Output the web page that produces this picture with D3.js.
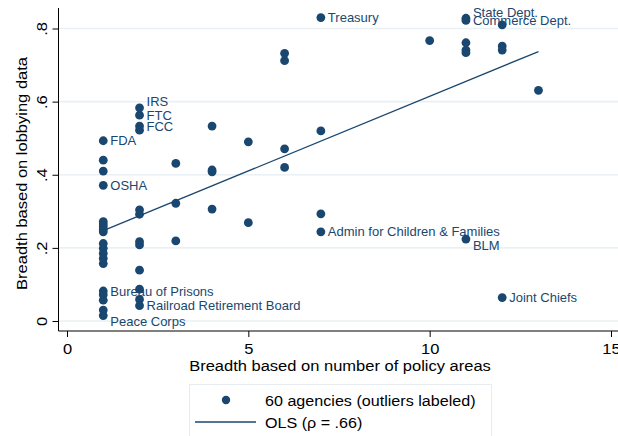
<!DOCTYPE html>
<html>
<head>
<meta charset="utf-8">
<script src="https://cdn.jsdelivr.net/npm/d3@7"></script>
<style>
  html, body { margin: 0; padding: 0; background: #fff; }
  svg { display: block; font-family: "Liberation Sans", Arial, Helvetica, sans-serif; }
</style>
</head>
<body>
<svg id="chart" width="618" height="436"></svg>
<script>
// Agencies: breadth by number of policy areas (x) vs breadth from lobbying data (y)
const policyAreas = [
  1,1,1,1,1,1,1,1,1,1,1,1,1,1,1,1,1,1,1,
  2,2,2,2,2,2,2,2,2,2,2,2,
  3,3,3,
  4,4,4,4,
  5,5,
  6,6,6,6,
  7,7,7,7,
  10,
  11,11,11,11,11,11,
  12,12,12,12,
  13
];
const lobbyingBreadth = [
  0.493,0.440,0.410,0.371,0.272,0.265,0.258,0.250,0.244,0.212,0.199,0.185,0.171,0.157,0.082,0.072,0.057,0.030,0.015,
  0.583,0.563,0.533,0.522,0.304,0.292,0.217,0.208,0.139,0.087,0.059,0.042,
  0.431,0.322,0.219,
  0.533,0.413,0.408,0.306,
  0.490,0.269,
  0.732,0.712,0.471,0.420,
  0.830,0.520,0.293,0.244,
  0.767,
  0.828,0.822,0.761,0.741,0.734,0.224,
  0.810,0.752,0.741,0.064,
  0.631
];

// Fitted OLS line endpoints
const olsX = [1, 13];
const olsY = [0.247, 0.737];

// Labeled outliers (clock position of the label relative to its marker)
const labelNames = ["Treasury","State Dept.","Commerce Dept.","IRS","FTC","FCC","FDA","OSHA",
  "Admin for Children & Families","BLM","Bureau of Prisons","Railroad Retirement Board","Peace Corps","Joint Chiefs"];
const labelX = [7,11,11,2,2,2,1,1,7,11,1,2,1,12];
const labelY = [0.830,0.828,0.822,0.583,0.563,0.533,0.493,0.371,0.244,0.224,0.080,0.042,0.015,0.064];
const labelClock = [3,2,3,2,3,3,3,3,3,4,3,3,4,3];

const xTicks = [0, 5, 10, 15];
const yTicks = [0, 0.2, 0.4, 0.6, 0.8];
const yTickLabels = ["0", ".2", ".4", ".6", ".8"];

const navy = "#1a476f";
const stretch = 1.065;   // slightly wide lettering for titles and legend
const svg = d3.select("#chart");

const plot = { left: 58.5, right: 618, top: 8, bottom: 331 };
const x = d3.scaleLinear().domain([0, 15]).range([67, 611]);
const y = d3.scaleLinear().domain([0, 0.8]).range([321, 28.5]);

// Text placed at (px, py), optionally rotated, stretched along its baseline
function addText(parent, px, py, str, size, opts = {}) {
  const rot = opts.rotate ? ` rotate(${opts.rotate})` : "";
  return parent.append("text")
    .attr("transform", `translate(${px},${py})${rot} scale(${opts.sx || stretch},1)`)
    .attr("text-anchor", opts.anchor || "start")
    .attr("dominant-baseline", "central")
    .attr("font-size", size)
    .attr("fill", opts.fill || "#000")
    .text(str);
}

// Gridlines
svg.append("g").selectAll("line").data(yTicks).join("line")
  .attr("x1", plot.left).attr("x2", plot.right)
  .attr("y1", d => y(d)).attr("y2", d => y(d))
  .attr("stroke", "#eaf0f4").attr("stroke-width", 1.6);

// X axis
const xAxis = svg.append("g")
  .attr("transform", `translate(0,${plot.bottom})`)
  .call(d3.axisBottom(x).tickValues(xTicks).tickSize(6).tickFormat(d3.format("d")));
xAxis.select(".domain").remove();
xAxis.selectAll(".tick line").attr("stroke", "#000");
xAxis.selectAll(".tick text")
  .attr("font-size", 15).attr("fill", "#000")
  .attr("font-family", "Liberation Sans, Arial, sans-serif")
  .attr("y", null).attr("dy", null)
  .attr("dominant-baseline", "central")
  .attr("transform", `translate(0,18) scale(1.1,1)`);
svg.append("line").attr("x1", plot.left).attr("x2", plot.right)
  .attr("y1", plot.bottom).attr("y2", plot.bottom).attr("stroke", "#000");

// Y axis
const yAxis = svg.append("g")
  .attr("transform", `translate(${plot.left},0)`)
  .call(d3.axisLeft(y).tickValues(yTicks).tickSize(6).tickFormat((d, i) => yTickLabels[i]));
yAxis.select(".domain").remove();
yAxis.selectAll(".tick line").attr("stroke", "#000");
yAxis.selectAll(".tick text")
  .attr("font-size", 15).attr("fill", "#000")
  .attr("font-family", "Liberation Sans, Arial, sans-serif")
  .attr("x", null).attr("dy", null)
  .attr("text-anchor", "middle")
  .attr("transform", "translate(-17,0) rotate(-90) scale(1.1,1)")
  .attr("dominant-baseline", "central");
svg.append("line").attr("x1", plot.left).attr("x2", plot.left)
  .attr("y1", plot.top).attr("y2", plot.bottom).attr("stroke", "#000");

// Axis titles
addText(svg, 340, 366, "Breadth based on number of policy areas", 15.5, { anchor: "middle" });
addText(svg, 22, 173.5, "Breadth based on lobbying data", 15.5, { anchor: "middle", rotate: -90 });

// OLS line
svg.append("line")
  .attr("x1", x(olsX[0])).attr("y1", y(olsY[0]))
  .attr("x2", x(olsX[1])).attr("y2", y(olsY[1]))
  .attr("stroke", navy).attr("stroke-width", 1.3);

// Markers
svg.append("g").selectAll("circle").data(policyAreas).join("circle")
  .attr("cx", d => x(d))
  .attr("cy", (d, i) => y(lobbyingBreadth[i]))
  .attr("r", 4.4)
  .attr("fill", navy);

// Outlier labels
const clockDy = { 2: -6, 3: 0, 4: 6 };
svg.append("g").selectAll("text").data(labelNames).join("text")
  .attr("x", (d, i) => x(labelX[i]) + 7)
  .attr("y", (d, i) => y(labelY[i]) + clockDy[labelClock[i]])
  .attr("dominant-baseline", "central")
  .attr("font-size", 13)
  .attr("fill", navy)
  .text(d => d);

// Legend
const lg = svg.append("g");
lg.append("rect").attr("x", 189.5).attr("y", 384.5).attr("width", 302).attr("height", 60)
  .attr("fill", "#fff").attr("stroke", "#e6ecf0").attr("stroke-width", 1);
lg.append("circle").attr("cx", 226).attr("cy", 400).attr("r", 4.2).attr("fill", navy);
addText(lg, 265, 400.5, "60 agencies (outliers labeled)", 15, { sx: 1.075 });
lg.append("line").attr("x1", 195).attr("x2", 256).attr("y1", 422).attr("y2", 422)
  .attr("stroke", navy).attr("stroke-width", 1.5);
addText(lg, 265, 423, "OLS (ρ = .66)", 15, { sx: 1.075 });
</script>
</body>
</html>
